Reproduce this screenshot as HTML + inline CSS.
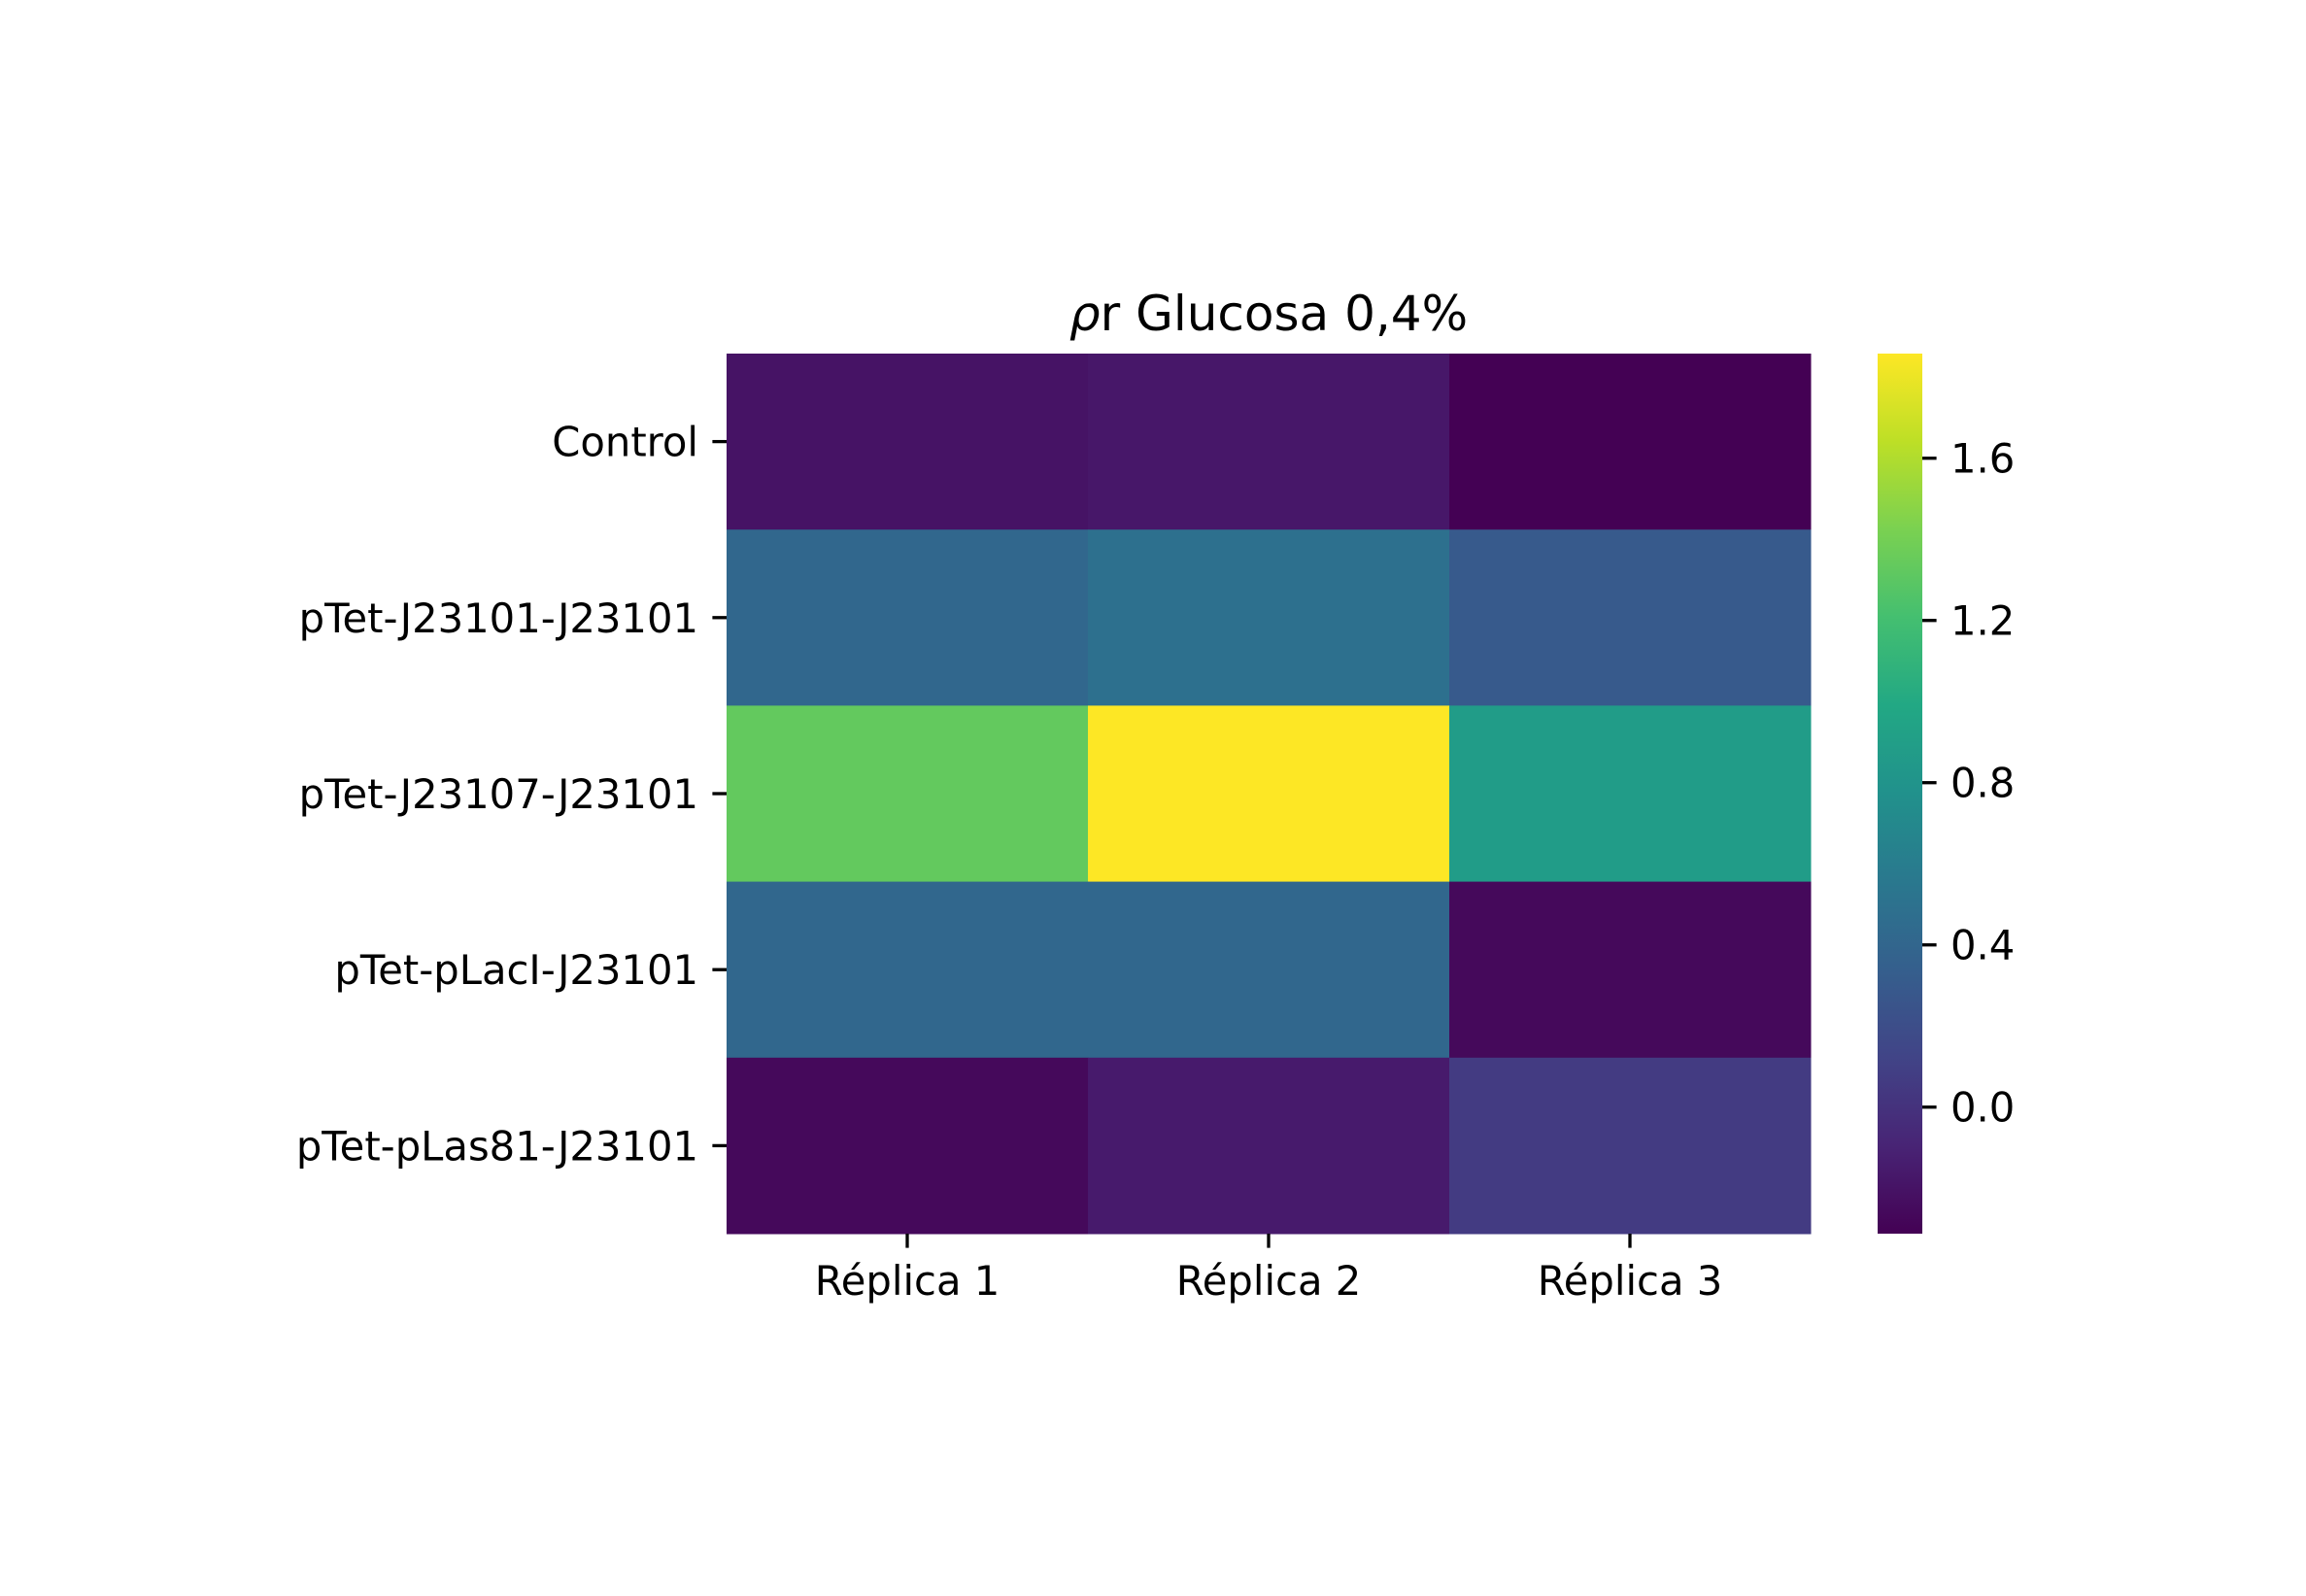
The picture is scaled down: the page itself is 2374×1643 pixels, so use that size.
<!DOCTYPE html>
<html><head><meta charset="utf-8"><style>
html,body{margin:0;padding:0;background:#fff;}
svg{display:block;font-family:"DejaVu Sans","Liberation Sans",sans-serif;}
</style></head><body>
<svg id="chart" width="2374" height="1643" viewBox="0 0 2374 1643" xmlns="http://www.w3.org/2000/svg">
<rect width="2374" height="1643" fill="#fff"/>
<text x="1306" y="340" font-size="50" text-anchor="middle"><tspan font-style="italic">ρ</tspan>r Glucosa 0,4%</text>
<g id="cells"></g><g id="yt"></g><g id="xt"></g>
<defs><linearGradient id="vg" x1="0" y1="1" x2="0" y2="0"></linearGradient></defs>
<rect x="1933" y="364" width="46" height="906" fill="url(#vg)"/>
<g id="ct"></g>
</svg>
<script>
const rows = ["Control","pTet-J23101-J23101","pTet-J23107-J23101","pTet-pLacI-J23101","pTet-pLas81-J23101"];
const cols = ["Réplica 1","Réplica 2","Réplica 3"];
const rowControl = [-0.20,-0.175,-0.312];
const rowJ23101 = [0.41,0.49,0.30];
const rowJ23107 = [1.33,1.858,0.88];
const rowLacI = [0.41,0.41,-0.265];
const rowLas81 = [-0.265,-0.155,0.06];
const cbTicks = [0.0,0.4,0.8,1.2,1.6];
const vmin = -0.312, vmax = 1.858;

const values=[rowControl,rowJ23101,rowJ23107,rowLacI,rowLas81];
const NS="http://www.w3.org/2000/svg";
const L=748,T=364,W=1116,H=906;
const cw=W/cols.length, rh=H/rows.length;
const vir=["#440154","#482475","#414487","#355f8d","#2a788e","#21918c","#22a884","#44bf70","#7ad151","#bddf26","#fde725"];
function hex(h){return [1,3,5].map(i=>parseInt(h.substr(i,2),16));}
function color(v){let t=(v-vmin)/(vmax-vmin);t=Math.max(0,Math.min(1,t));const p=t*(vir.length-1),i=Math.min(Math.floor(p),vir.length-2),f=p-i;const a=hex(vir[i]),b=hex(vir[i+1]);return "rgb("+a.map((x,k)=>Math.round(x+(b[k]-x)*f)).join(",")+")";}
function xPos(c){return L+c*cw;}
function yPos(r){return T+r*rh;}
function cbY(v){return T+H-(v-vmin)/(vmax-vmin)*H;}
function mk(tag,attrs,parent){const e=document.createElementNS(NS,tag);for(const k in attrs)e.setAttribute(k,attrs[k]);parent.appendChild(e);return e;}
const cells=document.getElementById('cells');
values.forEach((row,r)=>row.forEach((v,c)=>{
 const e=mk('rect',{x:xPos(c),y:yPos(r),width:cw+0.5,height:rh+0.5,fill:color(v)},cells);
 
 
}));
const yt=document.getElementById('yt');
rows.forEach((n,r)=>{
 const y=yPos(r)+rh/2;
 mk('line',{x1:L-14.6,x2:L,y1:y,y2:y,stroke:"#000","stroke-width":3.3},yt);
 const t=mk('text',{x:L-29,y:y+15,"font-size":41.7,"text-anchor":"end"},yt);
 t.textContent=n;
 
 
});
const xt=document.getElementById('xt');
cols.forEach((n,c)=>{
 const x=xPos(c)+cw/2;
 mk('line',{x1:x,x2:x,y1:T+H,y2:T+H+14.6,stroke:"#000","stroke-width":3.3},xt);
 const t=mk('text',{x:x,y:T+H+63,"font-size":41.7,"text-anchor":"middle"},xt);
 t.textContent=n;
 
 
});
const g=document.getElementById('vg');
vir.forEach((c,i)=>mk('stop',{offset:(i/(vir.length-1)),"stop-color":c},g));
const ct=document.getElementById('ct');
cbTicks.forEach(v=>{
 const y=cbY(v);
 mk('line',{x1:1979,x2:1993.6,y1:y,y2:y,stroke:"#000","stroke-width":3.3},ct);
 const t=mk('text',{x:2008,y:y+15,"font-size":41.7},ct);
 t.textContent=v.toFixed(1);
 
 
});
</script>
</body></html>
